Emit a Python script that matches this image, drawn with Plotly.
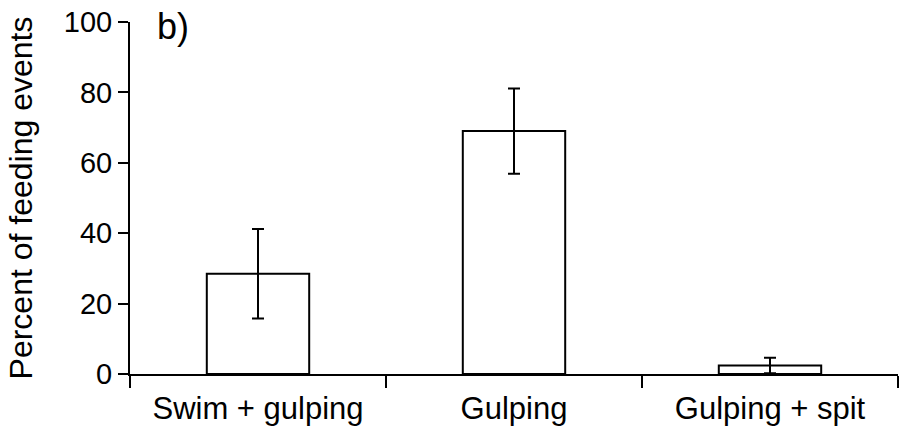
import plotly.graph_objects as go

categories = ["Swim + gulping", "Gulping", "Gulping + spit"]
percent = [28.5, 69.0, 2.4]
err_up = [12.7, 12.1, 2.2]
err_down = [12.7, 12.1, 2.2]
y_ticks = [0, 20, 40, 60, 80, 100]

fig = go.Figure()
fig.add_trace(go.Bar(
    x=categories, y=percent, width=0.4,
    marker=dict(color="white", line=dict(color="black", width=2)),
    error_y=dict(type="data", array=err_up, arrayminus=err_down, symmetric=False,
                 color="black", thickness=2, width=6),
))

font = "Liberation Sans, Arial, sans-serif"
fig.update_layout(
    width=905, height=434,
    margin=dict(l=130, r=7, t=22, b=60),
    plot_bgcolor="white", paper_bgcolor="white",
    showlegend=False,
    font=dict(family=font, color="black"),
    xaxis=dict(
        type="category", range=[-0.5, 2.5], tickson="boundaries",
        showline=True, linecolor="black", linewidth=2,
        ticks="outside", ticklen=12, tickwidth=2, tickcolor="black",
        tickfont=dict(size=31), showgrid=False, zeroline=False,
        automargin=False, ticklabelstandoff=6, ticklabeloverflow="allow",
    ),
    yaxis=dict(
        range=[0, 100], tickvals=y_ticks,
        showline=True, linecolor="black", linewidth=2,
        ticks="outside", ticklen=10, tickwidth=2, tickcolor="black",
        tickfont=dict(size=29), showgrid=False, zeroline=False,
        automargin=False, ticklabeloverflow="allow",
        title=dict(text="Percent of feeding events", font=dict(size=32), standoff=22),
    ),
    annotations=[dict(text="b)", x=0.033, y=1.05, xref="paper", yref="paper",
                      xanchor="left", yanchor="top", showarrow=False,
                      font=dict(size=36))],
)

fig.write_html("out.html",
               config={"displayModeBar": False},
               post_script="document.body.style.margin='0';document.body.style.overflow='hidden';")
